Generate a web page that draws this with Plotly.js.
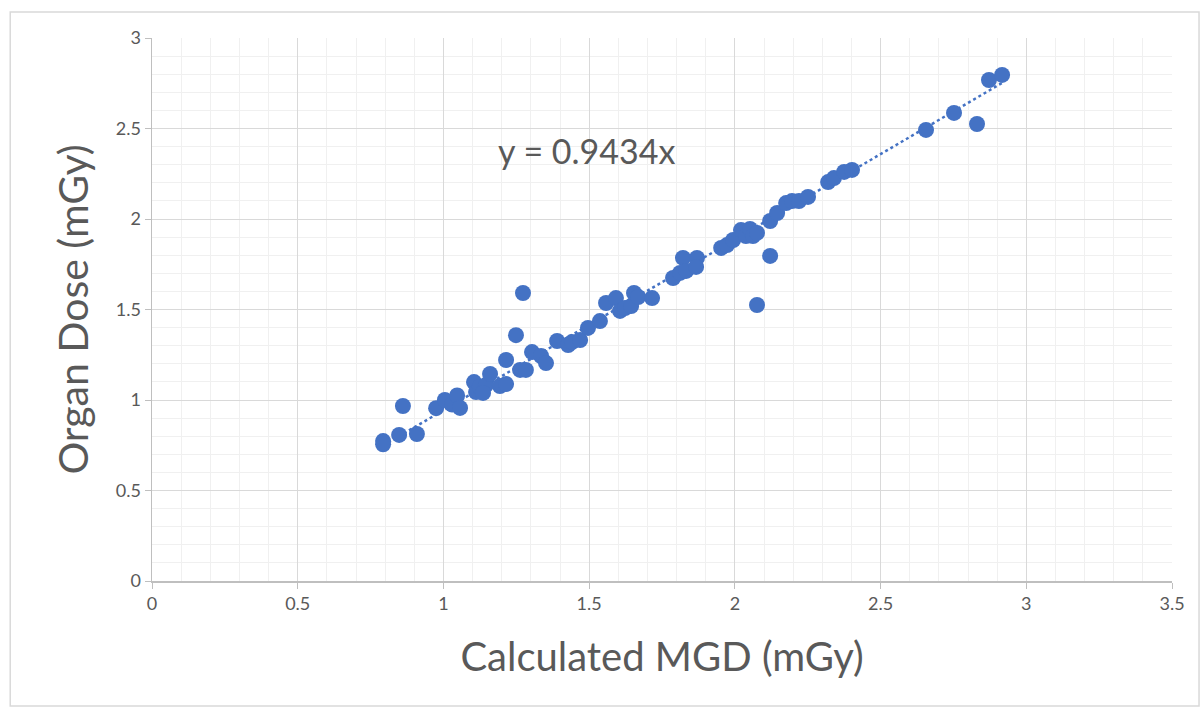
<!DOCTYPE html>
<html>
<head>
<meta charset="utf-8">
<script src="https://cdn.plot.ly/plotly-3.0.1.min.js"></script>
<style>html,body{margin:0;padding:0;background:#fff;}#chart{width:1203px;height:711px;}</style>
</head>
<body>
<div id="chart"></div>
<script>
// Calculated MGD (mGy)
const calculatedMGD = [0.793, 0.793, 0.848, 0.861, 0.909, 0.975, 1.005, 1.03, 1.047, 1.057,
  1.105, 1.112, 1.125, 1.146, 1.136, 1.16, 1.194, 1.215, 1.215, 1.249,
  1.273, 1.263, 1.283, 1.304, 1.335, 1.352, 1.39, 1.428, 1.441, 1.469,
  1.496, 1.537, 1.558, 1.592, 1.606, 1.623, 1.644, 1.654, 1.668, 1.716,
  1.788, 1.812, 1.822, 1.833, 1.870, 1.867, 1.953, 1.973, 1.994, 2.021,
  2.038, 2.052, 2.062, 2.076, 2.076, 2.121, 2.121, 2.145, 2.176, 2.196,
  2.220, 2.251, 2.320, 2.340, 2.375, 2.402, 2.656, 2.752, 2.831, 2.872, 2.917];
// Organ Dose (mGy)
const organDose = [0.773, 0.755, 0.807, 0.967, 0.812, 0.955, 1.000, 0.975, 1.025, 0.956,
  1.099, 1.044, 1.072, 1.083, 1.039, 1.144, 1.077, 1.088, 1.221, 1.358,
  1.591, 1.166, 1.166, 1.265, 1.243, 1.204, 1.326, 1.304, 1.320, 1.331,
  1.398, 1.436, 1.536, 1.563, 1.492, 1.508, 1.519, 1.591, 1.569, 1.563,
  1.674, 1.702, 1.785, 1.713, 1.785, 1.735, 1.840, 1.856, 1.884, 1.939,
  1.906, 1.945, 1.906, 1.923, 1.525, 1.796, 1.989, 2.033, 2.088, 2.099,
  2.099, 2.122, 2.204, 2.226, 2.260, 2.271, 2.492, 2.586, 2.525, 2.768, 2.796];
const trendSlope = 0.9434;
const trendLabel = 'y = 0.9434x';
const xTitle = 'Calculated MGD (mGy)';
const yTitle = 'Organ Dose (mGy)';

const xMin = Math.min(...calculatedMGD), xMax = Math.max(...calculatedMGD);
const trendX = [xMin, xMax];
const trendY = trendX.map(v => trendSlope * v);

const gray = '#595959';
const font = 'Lato, "Open Sans", "Liberation Sans", sans-serif';

const data = [
  {
    x: trendX, y: trendY, type: 'scatter', mode: 'lines',
    line: {color: '#4472C4', width: 2.5, dash: 'dot'},
    hoverinfo: 'skip', showlegend: false
  },
  {
    x: calculatedMGD, y: organDose, type: 'scatter', mode: 'markers',
    marker: {color: '#4472C4', size: 16, line: {width: 0}},
    showlegend: false
  }
];

const layout = {
  width: 1203, height: 711,
  margin: {l: 152, r: 31, t: 38, b: 130},
  paper_bgcolor: '#fff', plot_bgcolor: '#fff',
  font: {family: font, color: gray, size: 18},
  xaxis: {
    range: [0, 3.5], dtick: 0.5, tick0: 0,
    showgrid: true, gridcolor: '#d9d9d9', gridwidth: 1,
    minor: {dtick: 0.1, showgrid: true, gridcolor: '#f0f0f0', gridwidth: 1},
    zeroline: false, showline: true, linecolor: '#bfbfbf', linewidth: 1.5,
    ticks: 'outside', ticklen: 6, tickcolor: '#bfbfbf',
    tickfont: {family: font, size: 18, color: gray},
    title: {text: xTitle, font: {family: font, size: 40, color: gray}, standoff: 30}
  },
  yaxis: {
    range: [0, 3], dtick: 0.5, tick0: 0,
    showgrid: true, gridcolor: '#d9d9d9', gridwidth: 1,
    minor: {dtick: 0.1, showgrid: true, gridcolor: '#f0f0f0', gridwidth: 1},
    zeroline: false, showline: true, linecolor: '#bfbfbf', linewidth: 1.5,
    ticks: 'outside', ticklen: 6, tickcolor: '#bfbfbf',
    tickfont: {family: font, size: 18, color: gray},
    title: {text: yTitle, font: {family: font, size: 41, color: gray}, standoff: 14}
  },
  annotations: [{
    x: 1.49, y: 2.38, xref: 'x', yref: 'y', text: trendLabel, showarrow: false,
    font: {family: font, size: 34, color: gray}
  }],
  shapes: [{
    type: 'rect', xref: 'paper', yref: 'paper',
    x0: -0.139, x1: 1.0265, y0: -0.2302, y1: 1.0479,
    line: {color: '#d9d9d9', width: 1.5}, fillcolor: 'rgba(0,0,0,0)', layer: 'below'
  }]
};

Plotly.newPlot('chart', data, layout, {displayModeBar: false, staticPlot: true});
</script>
</body>
</html>
